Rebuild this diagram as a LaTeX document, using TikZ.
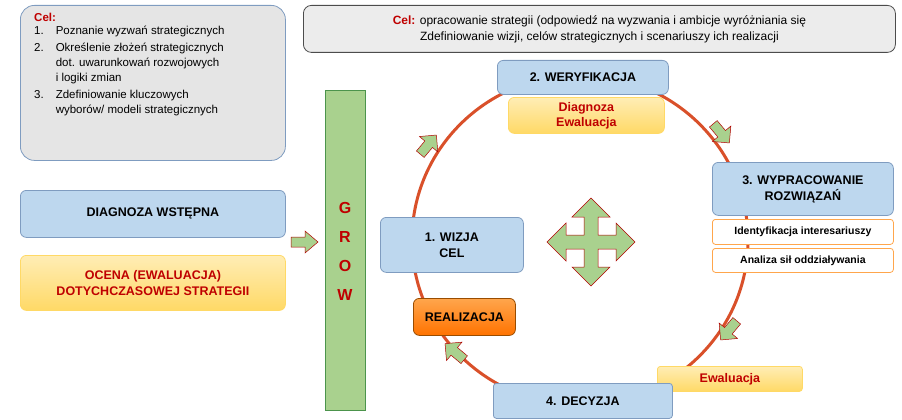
\documentclass[tikz,border=0pt]{standalone}
\usepackage{fontspec}
\setmainfont{Liberation Sans}
\begin{document}
\begin{tikzpicture}[x=1pt,y=-1pt,
  box/.style={draw=#1,rounded corners=6pt,line width=0.8pt,align=center,inner sep=2pt},
  blue/.style={box=blueb,fill=bluef,font=\fontsize{12.5}{16}\selectfont\bfseries},
  yel/.style={box=yelb,top color=yelt,bottom color=yelbt,text=red!75!black,font=\fontsize{12.5}{16}\selectfont\bfseries},
  wht/.style={box=orange!70,fill=white,font=\fontsize{10.5}{12}\selectfont\bfseries,rounded corners=3pt},
  garrow/.style={fill=greenf,draw=red!70!black,line width=0.5pt},
]
\definecolor{bluef}{HTML}{BDD7EE}
\definecolor{blueb}{HTML}{7F9CC0}
\definecolor{greenf}{HTML}{A9D18E}
\definecolor{ringc}{HTML}{D9502A}
\definecolor{yelt}{HTML}{FFEDB5}
\definecolor{yelbt}{HTML}{FFD966}
\definecolor{yelb}{HTML}{FFD966}
\useasboundingbox (0,0) rectangle (902,420);
% ring
\draw[ringc,line width=3pt] (580,240) ellipse [x radius=168,y radius=165];
% left cel box
\node[box=blueb,fill=gray!20,rounded corners=14pt,minimum width=265,minimum height=155,anchor=north west,inner sep=0] (cel1) at (20,5) {};
\node[anchor=north west,align=left,font=\fontsize{11.5}{15}\selectfont,inner sep=0] (cel1t) at (34,13) {%
\textcolor{red!75!black}{\bfseries Cel:}\\[1pt]
\begin{tabular}{@{}l@{\hspace{12pt}}l@{}}
1. & Poznanie wyzwań strategicznych\\[2pt]
2. & Określenie złożeń strategicznych\\
 & dot. uwarunkowań rozwojowych\\
 & i logiki zmian\\[2pt]
3. & Zdefiniowanie kluczowych\\
 & wyborów/ modeli strategicznych
\end{tabular}};
% top cel box
\node[box=black!70,fill=gray!15,rounded corners=8pt,minimum width=592,minimum height=47,anchor=north west,font=\fontsize{12}{16}\selectfont] (cel2) at (303,5) {\textcolor{red!75!black}{\bfseries Cel:} opracowanie strategii (odpowiedź na wyzwania i ambicje wyróżniania się\\Zdefiniowanie wizji, celów strategicznych i scenariuszy ich realizacji};
% left boxes
\node[blue,minimum width=265,minimum height=47,anchor=north west] (diag) at (20,190) {DIAGNOZA WSTĘPNA};
\node[yel,minimum width=265,minimum height=55,anchor=north west] (ocena) at (20,255) {OCENA (EWALUACJA)\\DOTYCHCZASOWEJ STRATEGII};
% grow
\node[draw=green!40!black!70,fill=greenf,minimum width=40,minimum height=320,anchor=north west,inner sep=0] (grow) at (325,90) {};
\foreach \l/\yy in {G/208,R/237,O/266,W/295}
  \node[text=red!75!black,font=\fontsize{16}{16}\selectfont\bfseries] (g\l) at (345,\yy) {\l};
% small right arrow
\draw[garrow] (291,237) -- (305,237) -- (305,231) -- (318,242) -- (305,253) -- (305,247) -- (291,247) -- cycle;
% cycle boxes
\node[blue,minimum width=171,minimum height=34,anchor=north west] (b2) at (497,60) {2. WERYFIKACJA};
\node[yel,minimum width=156,minimum height=36,anchor=north west,font=\fontsize{12.5}{15}\selectfont\bfseries] (b2y) at (508,97) {Diagnoza\\Ewaluacja};
\node[blue,minimum width=181,minimum height=53,anchor=north west] (b3) at (712,162) {3. WYPRACOWANIE\\ROZWIĄZAŃ};
\node[wht,minimum width=181,minimum height=25,anchor=north west] (b3a) at (712,219) {Identyfikacja interesariuszy};
\node[wht,minimum width=181,minimum height=24,anchor=north west] (b3b) at (712,248) {Analiza sił oddziaływania};
\node[blue,minimum width=143,minimum height=55,anchor=north west] (b1) at (380,217) {1. WIZJA\\CEL};
\node[box=orange!60!black,top color=orange!70,bottom color=orange!90!red,minimum width=102,minimum height=37,anchor=north west,font=\fontsize{12.5}{15}\selectfont\bfseries] (real) at (413,298) {REALIZACJA};
\node[yel,minimum width=145,minimum height=25,anchor=north west,rounded corners=3pt] (ew) at (657,366) {Ewaluacja};
\node[blue,minimum width=179,minimum height=35,anchor=north west,rounded corners=3pt] (b4) at (493,383) {4. DECYZJA};
% ring arrows
\foreach \px/\py/\r in {428/145/-50, 721/133/50, 729/330/130, 455/352/-140}{
  \begin{scope}[shift={(\px,\py)},rotate=-\r]
  \draw[garrow] (-12,-5) -- (1,-5) -- (1,-12) -- (13,0) -- (1,12) -- (1,5) -- (-12,5) -- cycle;
  \end{scope}}
% four-way arrow
\draw[garrow,shift={(591,242)}] (0,-44) -- (19,-25) -- (7,-25) -- (7,-7) -- (25,-7) -- (25,-19) -- (44,0) -- (25,19) -- (25,7) -- (7,7) -- (7,25) -- (19,25) -- (0,44) -- (-19,25) -- (-7,25) -- (-7,7) -- (-25,7) -- (-25,19) -- (-44,0) -- (-25,-19) -- (-25,-7) -- (-7,-7) -- (-7,-25) -- (-19,-25) -- cycle;
\end{tikzpicture}
\end{document}
